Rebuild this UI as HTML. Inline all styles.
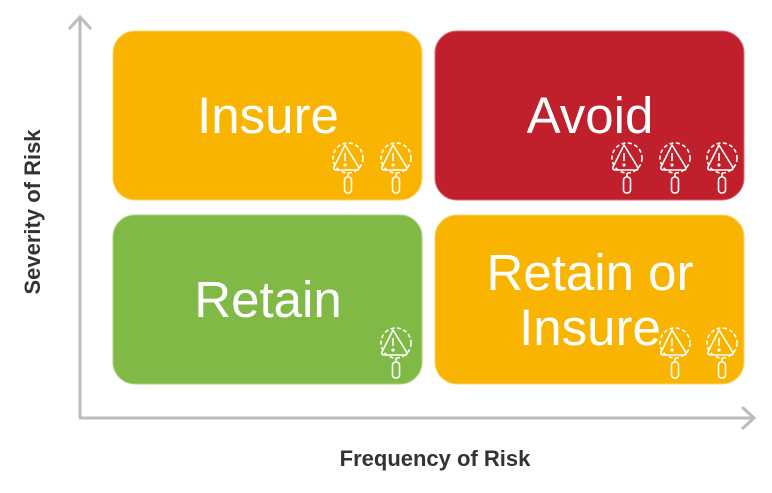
<!DOCTYPE html>
<html><head><meta charset="utf-8"><style>
body{margin:0;width:772px;height:488px;background:#fff;overflow:hidden;font-family:"Liberation Sans",sans-serif}
</style></head><body>
<svg width="772" height="488" viewBox="0 0 772 488" xmlns="http://www.w3.org/2000/svg" font-family="Liberation Sans, sans-serif">
<defs>
<g id="ic" fill="none" stroke="#fff" stroke-width="1.6">
<circle cx="0" cy="0" r="15" stroke-dasharray="4 2.5"/>
<path d="M-3,-13 L-14,9 Q-15,12 -11,12 L9,12 Q12,12 10,8 Z" stroke-linejoin="round"/>
<line x1="-3" y1="-5" x2="-3" y2="3"/>
<circle cx="-3" cy="7" r="0.8" fill="#fff"/>
<path d="M0,15 L0,19"/>
<rect x="-3.5" y="19" width="7" height="16" rx="3"/>
</g>
</defs>
<line x1="80" y1="418" x2="80" y2="18" stroke="#bcbcbc" stroke-width="3"/>
<polyline points="69,29 80,17 91,29" fill="none" stroke="#bcbcbc" stroke-width="3"/>
<line x1="79" y1="418" x2="753" y2="418" stroke="#bcbcbc" stroke-width="3"/>
<polyline points="742,407 754,418 742,429" fill="none" stroke="#bcbcbc" stroke-width="3"/>
<rect x="113" y="31" width="309" height="169" rx="22" fill="#f8b400" stroke="#fcd46a" stroke-width="1"/>
<rect x="435" y="31" width="309" height="169" rx="22" fill="#c0202b" stroke="#d86a70" stroke-width="1"/>
<rect x="113" y="215" width="309" height="169" rx="22" fill="#80b946" stroke="#a8d27e" stroke-width="1"/>
<rect x="435" y="215" width="309" height="169" rx="22" fill="#f8b400" stroke="#fcd46a" stroke-width="1"/>
<g fill="#fff" font-size="51" text-anchor="middle">
<text x="268" y="133">Insure</text>
<text x="590" y="133">Avoid</text>
<text x="268" y="317">Retain</text>
<text x="590" y="290">Retain or</text>
<text x="590" y="345">Insure</text>
</g>
<use href="#ic" x="348" y="158"/><use href="#ic" x="396" y="158"/>
<use href="#ic" x="627" y="158"/><use href="#ic" x="675" y="158"/><use href="#ic" x="722" y="158"/>
<use href="#ic" x="396" y="343"/>
<use href="#ic" x="675" y="343"/><use href="#ic" x="722" y="343"/>
<text x="435" y="466" font-size="22" font-weight="bold" fill="#333" text-anchor="middle">Frequency of Risk</text>
<text transform="translate(40,212) rotate(-90)" font-size="22" font-weight="bold" fill="#333" text-anchor="middle">Severity of Risk</text>
</svg>
</body></html>
